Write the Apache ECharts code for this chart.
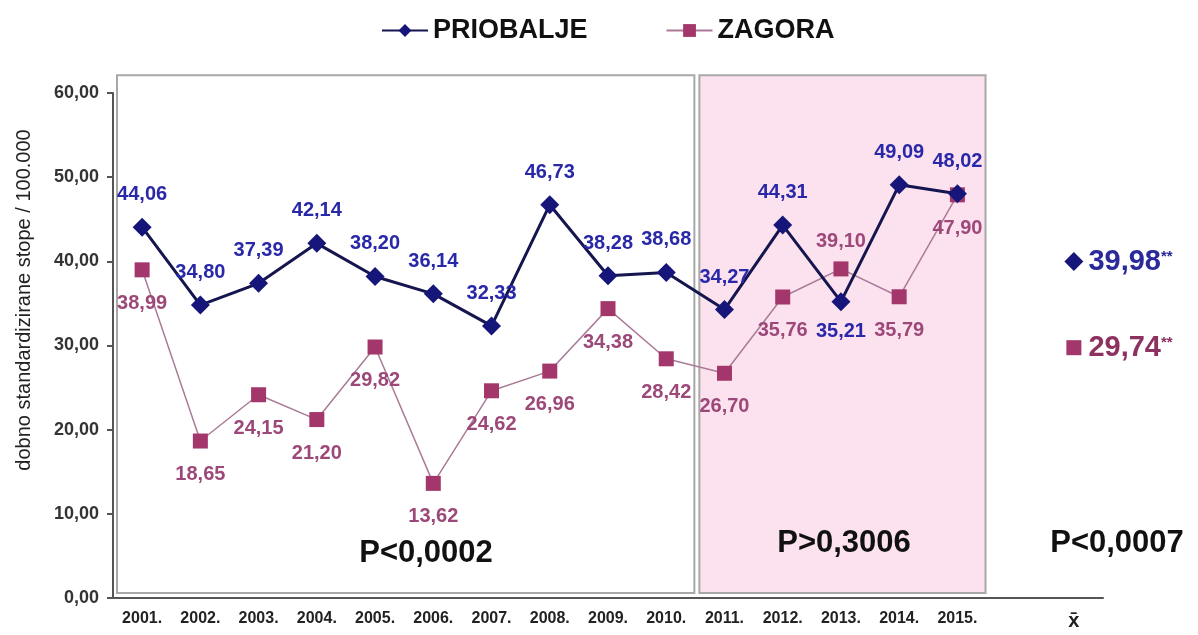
<!DOCTYPE html>
<html>
<head>
<meta charset="utf-8">
<script src="https://cdn.jsdelivr.net/npm/echarts@6/dist/echarts.min.js"></script>
<style>
  html, body { margin: 0; padding: 0; background: #ffffff; }
  #chart { width: 1198px; height: 635px; }
</style>
</head>
<body>
<div id="chart"></div>
<script>
const years = ["2001.", "2002.", "2003.", "2004.", "2005.", "2006.", "2007.", "2008.",
  "2009.", "2010.", "2011.", "2012.", "2013.", "2014.", "2015."];
const meanLabel = "x\u0304";
const categories = years.concat(["", meanLabel]);

const priobalje = [44.06, 34.80, 37.39, 42.14, 38.20, 36.14, 32.33, 46.73,
  38.28, 38.68, 34.27, 44.31, 35.21, 49.09, 48.02];
const zagora = [38.99, 18.65, 24.15, 21.20, 29.82, 13.62, 24.62, 26.96,
  34.38, 28.42, 26.70, 35.76, 39.10, 35.79, 47.90];
const meanPriobalje = 39.98;
const meanZagora = 29.74;

// periods shown as boxes (first / last year of each)
const periodStart = ["2001.", "2011."];
const periodEnd = ["2010.", "2015."];
const pValues = ["P<0,0002", "P>0,3006", "P<0,0007"];

const yTicks = [0, 10, 20, 30, 40, 50, 60];

const font = '"Liberation Sans", Arial, sans-serif';
const fmt = v => Number(v).toFixed(2).replace(".", ",");

const chart = echarts.init(document.getElementById("chart"));

const boxFill = ["#ffffff", "#fce1ef"];

function pText(text, x, y) {
  return {
    type: "text", x, y, z: 100,
    style: { text, font: "bold 31px " + font, fill: "#111", textAlign: "center", textVerticalAlign: "middle" }
  };
}

chart.setOption({
  backgroundColor: "#ffffff",
  animation: false,
  textStyle: { fontFamily: font },
  legend: {
    data: ["PRIOBALJE", "ZAGORA"],
    left: 376,
    top: 12,
    itemWidth: 46,
    itemHeight: 16,
    itemGap: 78,
    textStyle: { fontSize: 27, fontWeight: "bold", color: "#111", fontFamily: font }
  },
  grid: { left: 113, right: 95, top: 93, bottom: 37 },
  xAxis: {
    type: "category",
    data: categories,
    boundaryGap: true,
    axisLine: { lineStyle: { color: "#555", width: 2 } },
    axisTick: { length: 6, lineStyle: { color: "#555", width: 2 } },
    axisLabel: { interval: 0, margin: 13, fontSize: 16, fontWeight: "bold", color: "#222", fontFamily: font,
      rich: { m: { fontSize: 20, fontWeight: "bold", color: "#222", fontFamily: font } },
      formatter: v => v === meanLabel ? "{m|" + v + "}" : v }
  },
  yAxis: {
    type: "value",
    min: yTicks[0],
    max: yTicks[yTicks.length - 1],
    interval: 10,
    splitLine: { show: false },
    axisLine: { show: true, lineStyle: { color: "#555", width: 2 } },
    axisTick: { show: true, length: 6, lineStyle: { color: "#555", width: 2 } },
    axisLabel: { margin: 14, fontSize: 18, fontWeight: "bold", color: "#333", fontFamily: font, formatter: fmt }
  },
  graphic: [
    {
      type: "text", x: 24, y: 300, rotation: Math.PI / 2, z: 100,
      style: { text: "dobno standardizirane stope / 100.000", font: "20px " + font, fill: "#222",
        textAlign: "center", textVerticalAlign: "middle" }
    },
    pText(pValues[0], 426, 553),
    pText(pValues[1], 844, 543),
    pText(pValues[2], 1117, 543)
  ],
  series: [
    {
      name: "periods",
      type: "custom",
      clip: false,
      z: 0,
      silent: true,
      data: periodStart.map((s, i) => [categories.indexOf(s), categories.indexOf(periodEnd[i])]),
      renderItem(params, api) {
        const i0 = api.value(0);
        const i1 = api.value(1);
        const band = api.size([1, 0])[0];
        const x0 = api.coord([i0, 0])[0] - band / 2 + 4;
        const x1 = api.coord([i1, 0])[0] + band / 2 - 1;
        const top = api.coord([i0, 62.1])[1];
        const bottom = api.coord([i0, 0.6])[1];
        return {
          type: "rect",
          shape: { x: x0, y: top, width: x1 - x0, height: bottom - top },
          style: { fill: boxFill[params.dataIndex], stroke: "#a8a8a8", lineWidth: 2 }
        };
      }
    },
    {
      name: "ZAGORA",
      type: "line",
      z: 3,
      data: zagora.map((v, i) => years[i] === "2013."
        ? { value: v, label: { position: "top", distance: 10 } } : v),
      symbol: "rect",
      symbolSize: 15,
      lineStyle: { color: "#a97b96", width: 1.5 },
      itemStyle: { color: "#a3366a" },
      label: { show: true, position: "bottom", distance: 16, color: "#9c4878",
        fontSize: 20, fontWeight: "bold", fontFamily: font, formatter: p => fmt(p.value) }
    },
    {
      name: "PRIOBALJE",
      type: "line",
      z: 4,
      data: priobalje.map((v, i) => years[i] === "2013."
        ? { value: v, label: { position: "bottom", distance: 10 } } : v),
      symbol: "diamond",
      symbolSize: 19,
      lineStyle: { color: "#15154f", width: 3 },
      itemStyle: { color: "#16167a" },
      label: { show: true, position: "top", distance: 13, color: "#2828a8",
        fontSize: 20, fontWeight: "bold", fontFamily: font, formatter: p => fmt(p.value) }
    },
    {
      name: "PRIOBALJE mean",
      type: "scatter",
      z: 4,
      data: [[meanLabel, meanPriobalje]],
      symbol: "diamond",
      symbolSize: 19,
      itemStyle: { color: "#16167a", opacity: 1 },
      label: {
        show: true, position: "right", distance: 5,
        formatter: p => "{v|" + fmt(p.value[1]) + "}{s|**}",
        rich: {
          v: { fontSize: 29, fontWeight: "bold", color: "#2a2a9c", fontFamily: font },
          s: { fontSize: 15, fontWeight: "bold", color: "#2a2a9c", fontFamily: font, padding: [0, 0, 10, 0] }
        }
      }
    },
    {
      name: "ZAGORA mean",
      type: "scatter",
      z: 4,
      data: [[meanLabel, meanZagora]],
      symbol: "rect",
      symbolSize: 15,
      itemStyle: { color: "#a3366a", opacity: 1 },
      label: {
        show: true, position: "right", distance: 7,
        formatter: p => "{v|" + fmt(p.value[1]) + "}{s|**}",
        rich: {
          v: { fontSize: 29, fontWeight: "bold", color: "#8c3160", fontFamily: font },
          s: { fontSize: 15, fontWeight: "bold", color: "#8c3160", fontFamily: font, padding: [0, 0, 10, 0] }
        }
      }
    }
  ]
});
</script>
</body>
</html>
